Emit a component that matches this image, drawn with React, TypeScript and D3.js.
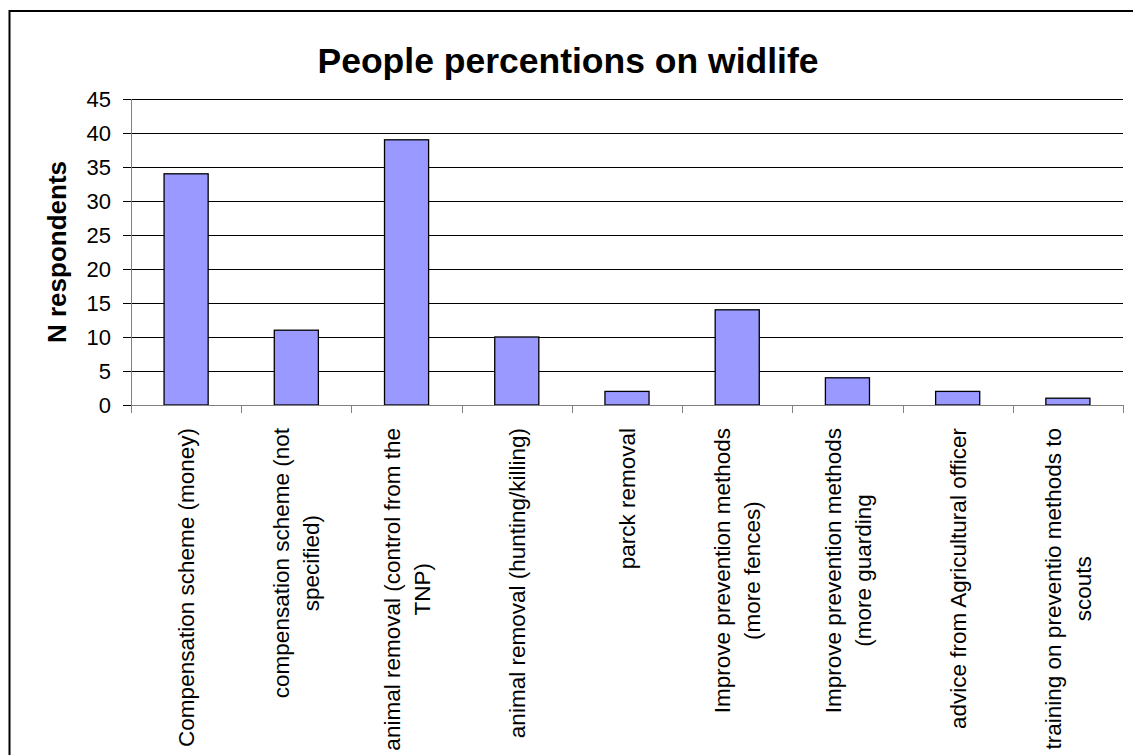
import React, { useEffect, useRef } from "react";
import * as d3 from "d3";

// Category labels (each entry holds the wrapped lines of one label)
const categories: string[][] = [
  ["Compensation scheme (money)"],
  ["compensation scheme (not", "specified)"],
  ["animal removal (control from the", "TNP)"],
  ["animal removal (hunting/killing)"],
  ["parck removal"],
  ["Improve prevention methods", "(more fences)"],
  ["Improve prevention methods", "(more guarding"],
  ["advice from Agricultural officer"],
  ["training on preventio methods to", "scouts"],
];
const respondents: number[] = [34, 11, 39, 10, 2, 14, 4, 2, 1];
const yTicks: number[] = [0, 5, 10, 15, 20, 25, 30, 35, 40, 45];

const W = 1133;
const H = 755;
const plot = { left: 131, right: 1123, top: 99, bottom: 405 };
const FONT = "Arial, 'Liberation Sans', Helvetica, sans-serif";

export default function App() {
  const ref = useRef<SVGSVGElement | null>(null);

  useEffect(() => {
    const svg = d3.select(ref.current);
    svg.selectAll("*").remove();

    const keys = categories.map((_, i) => String(i));
    const x = d3
      .scaleBand<string>()
      .domain(keys)
      .range([plot.left, plot.right])
      .paddingInner(0.6)
      .paddingOuter(0.3);
    const step = x.step();
    const y = d3.scaleLinear().domain([0, 45]).range([plot.bottom, plot.top]);

    // outer chart frame
    svg
      .append("rect")
      .attr("x", 9.5)
      .attr("y", 11)
      .attr("width", 1300)
      .attr("height", 900)
      .attr("fill", "none")
      .attr("stroke", "#000")
      .attr("stroke-width", 2);

    // title
    svg
      .append("text")
      .attr("x", 568)
      .attr("y", 73)
      .attr("text-anchor", "middle")
      .attr("font-family", FONT)
      .attr("font-weight", "bold")
      .attr("font-size", 35.5)
      .text("People percentions on widlife");

    // horizontal gridlines
    svg
      .append("g")
      .selectAll("line")
      .data(yTicks.filter((t) => t > 0))
      .join("line")
      .attr("x1", plot.left)
      .attr("x2", plot.right)
      .attr("y1", (d) => Math.round(y(d)) + 0.5)
      .attr("y2", (d) => Math.round(y(d)) + 0.5)
      .attr("stroke", "#000")
      .attr("stroke-width", 1);

    // bars
    svg
      .append("g")
      .selectAll("rect")
      .data(respondents)
      .join("rect")
      .attr("x", (_, i) => x(keys[i])!)
      .attr("width", x.bandwidth())
      .attr("y", (d) => y(d))
      .attr("height", (d) => y(0) - y(d))
      .attr("fill", "#9999FF")
      .attr("stroke", "#000")
      .attr("stroke-width", 1.3);

    // y axis
    const gy = svg.append("g");
    gy.append("line")
      .attr("x1", plot.left + 0.5)
      .attr("x2", plot.left + 0.5)
      .attr("y1", plot.top)
      .attr("y2", plot.bottom)
      .attr("stroke", "#808080");
    gy.selectAll("line.tick")
      .data(yTicks)
      .join("line")
      .attr("class", "tick")
      .attr("x1", plot.left - 8)
      .attr("x2", plot.left)
      .attr("y1", (d) => Math.round(y(d)) + 0.5)
      .attr("y2", (d) => Math.round(y(d)) + 0.5)
      .attr("stroke", "#000");
    gy.selectAll("text")
      .data(yTicks)
      .join("text")
      .attr("x", 111)
      .attr("y", (d) => y(d) + 7.5)
      .attr("text-anchor", "end")
      .attr("font-family", FONT)
      .attr("font-size", 22)
      .text((d) => String(d));

    // y axis title
    svg
      .append("text")
      .attr("transform", `translate(66, ${(plot.top + plot.bottom) / 2}) rotate(-90)`)
      .attr("text-anchor", "middle")
      .attr("font-family", FONT)
      .attr("font-weight", "bold")
      .attr("font-size", 26)
      .text("N respondents");

    // x axis
    const gx = svg.append("g");
    gx.append("line")
      .attr("x1", plot.left)
      .attr("x2", plot.right)
      .attr("y1", plot.bottom + 0.5)
      .attr("y2", plot.bottom + 0.5)
      .attr("stroke", "#808080");
    gx.selectAll("line.tick")
      .data(d3.range(categories.length + 1))
      .join("line")
      .attr("class", "tick")
      .attr("x1", (i) => Math.round(plot.left + i * step) + 0.5)
      .attr("x2", (i) => Math.round(plot.left + i * step) + 0.5)
      .attr("y1", plot.bottom)
      .attr("y2", plot.bottom + 8)
      .attr("stroke", "#808080");

    // rotated category labels, top-aligned under the axis, lines centred on each other
    const fs = 22.5;
    const lineH = 30;
    categories.forEach((lines, i) => {
      const cx = x(keys[i])! + x.bandwidth() / 2;
      const g = gx
        .append("g")
        .attr("transform", `translate(${cx}, 428) rotate(-90)`);
      const texts = lines.map((line, j) =>
        g
          .append("text")
          .attr("y", (j - (lines.length - 1) / 2) * lineH + fs * 0.36)
          .attr("text-anchor", "middle")
          .attr("font-family", FONT)
          .attr("font-size", fs)
          .text(line)
      );
      const widths = texts.map((t) => (t.node() as SVGTextElement).getComputedTextLength());
      const maxW = Math.max(...widths);
      texts.forEach((t) => t.attr("x", -maxW / 2));
    });
  }, []);

  return (
    <svg
      ref={ref}
      width={W}
      height={H}
      style={{ position: "absolute", left: 0, top: 0, display: "block", background: "#fff" }}
    />
  );
}
